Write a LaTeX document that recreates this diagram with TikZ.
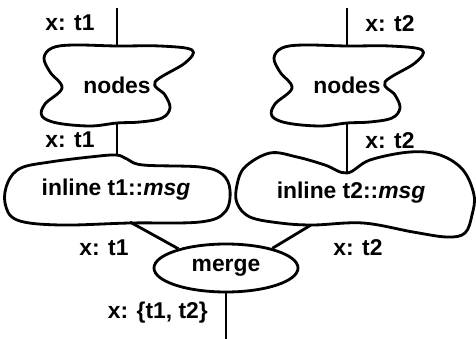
\documentclass[tikz,border=0pt]{standalone}
\usepackage{fontspec}
\setmainfont{Liberation Sans}
\usetikzlibrary{shapes.geometric,calc}

\begin{document}
\begin{tikzpicture}[
    lbl/.style={font=\fontsize{13}{15}\selectfont\bfseries},
    wire/.style={line width=1.6pt},
    blob/.style={line width=1.6pt, line join=round},
  ]
            \useasboundingbox (0,0) rectangle (9.52,6.78);

            %Nodes
            \node[lbl, minimum width=3.1cm, minimum height=1.56cm, inner sep=0] (nodesL) at (2.34,5.08) {nodes};
            \node[lbl, minimum width=3.1cm, minimum height=1.56cm, inner sep=0] (nodesR) at (6.94,5.08) {nodes};
            \node[lbl, minimum height=1.40cm, inner sep=0] (inlineL) at (2.32,2.98) {inline t1::\textit{msg}};
            \node[lbl, minimum height=0.80cm, inner sep=0] (inlineR) at (7.02,2.92) {inline t2::\textit{msg}};
            \node[lbl, draw, line width=1.6pt, ellipse, minimum width=2.88cm, minimum height=0.96cm, inner sep=0] (merge) at (4.52,1.42) {merge};

            \coordinate (inL) at (2.34,6.62);
            \coordinate (inR) at (6.94,6.62);
            \coordinate (out) at (4.52,0);
            \coordinate (outL) at ($(inlineL)+(0.28,-0.64)$);
            \coordinate (outR) at ($(inlineR)+(-0.80,-0.64)$);

            %Outlines
            \foreach \n in {nodesL,nodesR}
                \draw[blob, shift={(\n)}] plot[smooth cycle, tension=0.6] coordinates {
                    (-0.88,0.80) (0,0.78) (0.86,0.78) (1.50,0.70) (1.36,0.44) (0.76,0.06)
                    (0.96,-0.20) (1.06,-0.46) (0.90,-0.66) (0.46,-0.74) (0,-0.76)
                    (-0.54,-0.82) (-1.20,-0.76) (-1.50,-0.62) (-1.44,-0.38) (-1.10,-0.06)
                    (-1.34,0.26) (-1.46,0.54) (-1.30,0.74)};
            \draw[blob, shift={(inlineL)}] plot[smooth cycle, tension=0.6] coordinates {
                (0,0.70) (0.22,0.62) (0.54,0.50) (1.68,0.46) (2.12,0.32) (2.28,0)
                (2.18,-0.44) (1.68,-0.64) (0.28,-0.66) (-1.12,-0.70) (-1.98,-0.60)
                (-2.22,-0.26) (-2.16,0.16) (-1.90,0.44) (-1.32,0.56) (-0.52,0.66)};
            \draw[blob, shift={(inlineR)}] plot[smooth cycle, tension=0.6] coordinates {
                (-0.08,0.40) (0.38,0.66) (1.18,0.82) (1.78,0.76) (2.24,0.46) (2.46,-0.04)
                (2.42,-0.44) (2.28,-0.80) (1.92,-0.88) (1.24,-0.78) (0.24,-0.60)
                (-0.76,-0.64) (-1.42,-0.60) (-2.02,-0.48) (-2.28,-0.20) (-2.28,0.16)
                (-2.12,0.52) (-1.62,0.80) (-1.08,0.72) (-0.52,0.56)};

            %Lines
            \draw[wire] (inL) -- (nodesL.north);
            \draw[wire] (inR) -- (nodesR.north);
            \draw[wire] (nodesL.south) -- (nodesL.south |- inlineL.north);
            \draw[wire] (nodesR.south) -- (nodesR.south |- inlineR.north);
            \draw[wire] (outL) -- (merge.158);
            \draw[wire] (outR) -- (merge.23);
            \draw[wire] (merge.south) -- (out);

            %Labels
            \node[lbl] (xa) at (1.40,6.32) {x: t1};
            \node[lbl] (xb) at (7.80,6.30) {x: t2};
            \node[lbl] (xc) at (1.40,3.98) {x: t1};
            \node[lbl] (xd) at (7.80,3.96) {x: t2};
            \node[lbl] (xe) at (2.08,1.82) {x: t1};
            \node[lbl] (xf) at (7.16,1.82) {x: t2};
            \node[lbl, anchor=east] (xg) at (4.28,0.52) {x: \{t1, t2\}};
\end{tikzpicture}
\end{document}
